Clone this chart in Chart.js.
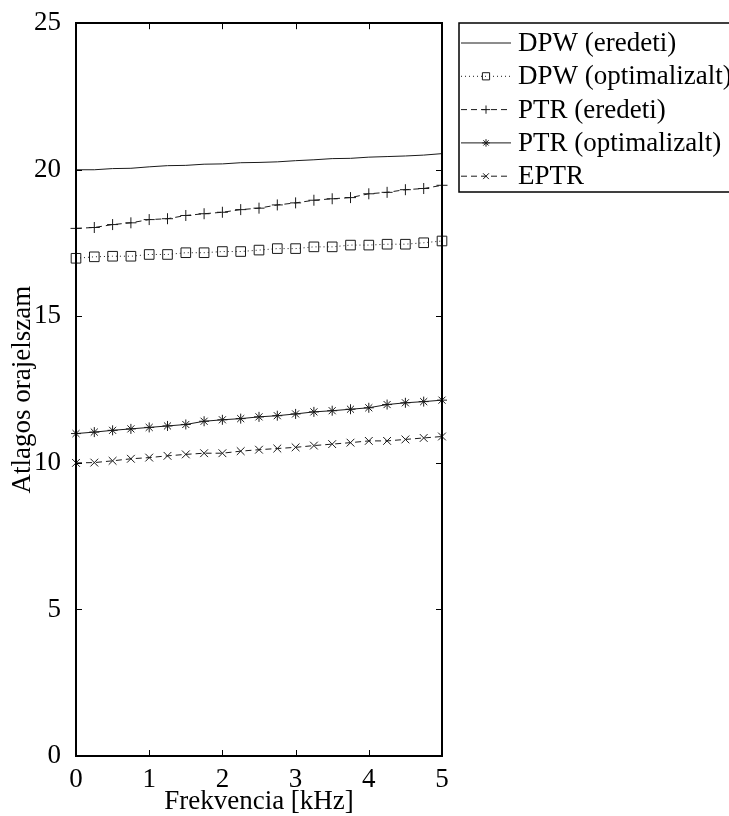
<!DOCTYPE html>
<html><head><meta charset="utf-8">
<script src="https://cdn.jsdelivr.net/npm/chart.js@4/dist/chart.umd.min.js"></script>
<style>html,body{margin:0;padding:0;background:#fff;overflow:hidden;}canvas{display:block;}</style>
</head><body><canvas id="c" width="729" height="816"></canvas>
<script>
// ---- data ----
const freqs = [0, 0.25, 0.5, 0.75, 1, 1.25, 1.5, 1.75, 2, 2.25, 2.5, 2.75, 3, 3.25, 3.5, 3.75, 4, 4.25, 4.5, 4.75, 5];
const dpwEredeti = [20.0, 20.0, 20.04, 20.05, 20.1, 20.14, 20.15, 20.19, 20.2, 20.24, 20.25, 20.27, 20.31, 20.34, 20.38, 20.39, 20.43, 20.45, 20.47, 20.5, 20.55];
const dpwOptim = [16.98, 17.03, 17.05, 17.05, 17.11, 17.11, 17.17, 17.17, 17.21, 17.21, 17.26, 17.31, 17.31, 17.37, 17.37, 17.43, 17.43, 17.46, 17.46, 17.51, 17.57];
const ptrEredeti = [18.0, 18.03, 18.13, 18.19, 18.3, 18.33, 18.44, 18.5, 18.55, 18.64, 18.69, 18.8, 18.87, 18.96, 19.01, 19.05, 19.18, 19.23, 19.32, 19.36, 19.47];
const ptrOptim = [11.0, 11.05, 11.11, 11.16, 11.21, 11.26, 11.31, 11.42, 11.47, 11.51, 11.57, 11.61, 11.67, 11.74, 11.78, 11.83, 11.88, 11.99, 12.05, 12.09, 12.14];
const eptr = [10.0, 10.01, 10.07, 10.14, 10.18, 10.24, 10.29, 10.33, 10.33, 10.4, 10.45, 10.49, 10.53, 10.59, 10.64, 10.69, 10.75, 10.75, 10.8, 10.85, 10.9];
const seriesLabels = ['DPW (eredeti)', 'DPW (optimalizalt)', 'PTR (eredeti)', 'PTR (optimalizalt)', 'EPTR'];
const xTicks = [0, 1, 2, 3, 4, 5];
const yTicks = [0, 5, 10, 15, 20, 25];
const xTitle = 'Frekvencia [kHz]';
const yTitle = 'Atlagos orajelszam';

const FONT = '"Liberation Serif", "Times New Roman", serif';
const FS = 27;
const INK = '#1a1a1a';
const pts = arr => freqs.map((f, i) => ({x: f, y: arr[i]}));

function mk(label, arr, dash, style, radius, lw) {
  return {
    label, data: pts(arr), borderColor: INK, borderWidth: lw || 1, borderDash: dash,
    pointStyle: style || false, pointRadius: style ? radius : 0, pointBorderColor: INK,
    pointBackgroundColor: 'rgba(0,0,0,0)', pointBorderWidth: 1, pointHoverRadius: style ? radius : 0,
    tension: 0, fill: false, clip: false
  };
}

const datasets = [
  mk(seriesLabels[0], dpwEredeti, [], false, 0),
  mk(seriesLabels[1], dpwOptim, [1, 3], 'rect', 6.8),
  mk(seriesLabels[2], ptrEredeti, [6, 4], 'cross', 5.5),
  mk(seriesLabels[3], ptrOptim, [], 'star', 5),
  mk(seriesLabels[4], eptr, [6, 4], 'crossRot', 5.5)
];

function drawMarker(ctx, style, x, y, r) {
  ctx.beginPath();
  if (style === 'rect') {
    const s = Math.SQRT1_2 * r;
    ctx.rect(x - s, y - s, 2 * s, 2 * s);
  } else if (style === 'cross' || style === 'star') {
    ctx.moveTo(x - r, y); ctx.lineTo(x + r, y);
    ctx.moveTo(x, y - r); ctx.lineTo(x, y + r);
  }
  if (style === 'crossRot' || style === 'star') {
    const o = Math.SQRT1_2 * r;
    ctx.moveTo(x - o, y - o); ctx.lineTo(x + o, y + o);
    ctx.moveTo(x - o, y + o); ctx.lineTo(x + o, y - o);
  }
  ctx.stroke();
}

const framePlugin = {
  id: 'frame',
  afterDatasetsDraw(chart) {
    const {ctx, chartArea: a, scales: {x, y}} = chart;
    ctx.save();
    ctx.strokeStyle = '#000';
    ctx.lineWidth = 1;
    ctx.setLineDash([]);
    ctx.beginPath();
    xTicks.forEach(v => {
      const px = Math.round(x.getPixelForValue(v)) + 0.5;
      ctx.moveTo(px, a.bottom); ctx.lineTo(px, a.bottom - 6);
      ctx.moveTo(px, a.top); ctx.lineTo(px, a.top + 6);
    });
    yTicks.forEach(v => {
      const py = Math.round(y.getPixelForValue(v)) + 0.5;
      ctx.moveTo(a.left, py); ctx.lineTo(a.left + 6, py);
      ctx.moveTo(a.right, py); ctx.lineTo(a.right - 6, py);
    });
    ctx.stroke();
    ctx.lineWidth = 2;
    ctx.strokeRect(Math.round(a.left), Math.round(a.top), Math.round(a.right - a.left), Math.round(a.bottom - a.top));
    ctx.restore();
  },
  afterDraw(chart) {
    const ctx = chart.ctx;
    ctx.save();
    ctx.strokeStyle = '#000';
    ctx.lineWidth = 1.5;
    ctx.strokeRect(459, 23, 400, 169);
    ctx.font = FS + 'px ' + FONT;
    ctx.textBaseline = 'middle';
    ctx.fillStyle = '#000';
    chart.data.datasets.forEach((ds, i) => {
      const yy = 43 + i * 33.3;
      ctx.strokeStyle = INK;
      ctx.lineWidth = ds.borderWidth;
      ctx.setLineDash(ds.borderDash || []);
      ctx.beginPath();
      ctx.moveTo(461, yy); ctx.lineTo(511, yy);
      ctx.stroke();
      ctx.setLineDash([]);
      if (ds.pointStyle) {
        ctx.lineWidth = 1;
        drawMarker(ctx, ds.pointStyle, 486, yy, ds.pointRadius * 0.75);
      }
      ctx.fillText(ds.label, 518, yy + 1);
    });
    ctx.restore();
  }
};

new Chart(document.getElementById('c'), {
  type: 'line',
  data: {datasets},
  plugins: [framePlugin],
  options: {
    responsive: false,
    animation: false,
    devicePixelRatio: 1,
    layout: {padding: {left: 0, top: 23, right: 287, bottom: 0}},
    plugins: {legend: {display: false}, tooltip: {enabled: false}},
    font: {family: FONT, size: FS},
    scales: {
      x: {
        type: 'linear', min: 0, max: 5,
        afterBuildTicks: s => { s.ticks = xTicks.map(v => ({value: v})); },
        afterFit: s => { s.height = 60; },
        grid: {display: false}, border: {display: false},
        ticks: {color: '#000', padding: 0, maxRotation: 0, font: {family: FONT, size: FS}},
        title: {display: true, text: xTitle, color: '#000', padding: {top: 0, bottom: 0}, font: {family: FONT, size: FS, lineHeight: 1.05}}
      },
      y: {
        type: 'linear', min: 0, max: 25,
        afterBuildTicks: s => { s.ticks = yTicks.map(v => ({value: v})); },
        afterFit: s => { s.width = 76; },
        grid: {display: false}, border: {display: false},
        ticks: {color: '#000', padding: 7, font: {family: FONT, size: FS}},
        title: {display: true, text: yTitle, color: '#000', padding: {top: 7, bottom: 0}, font: {family: FONT, size: FS, lineHeight: 1.2}}
      }
    }
  }
});
</script>
</body></html>
